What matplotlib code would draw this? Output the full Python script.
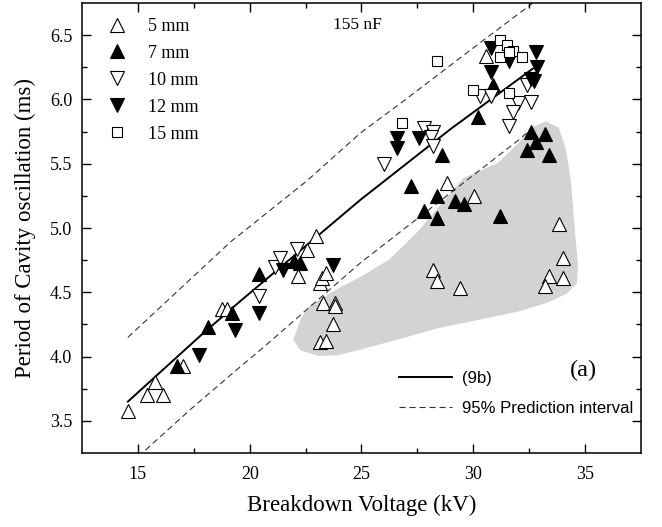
import numpy as np
import matplotlib
matplotlib.use('Agg')
import matplotlib.pyplot as plt
from matplotlib.patches import Polygon

plt.rcParams['font.family'] = ['Liberation Serif', 'DejaVu Serif']
plt.rcParams['mathtext.fontset'] = 'stix'

# ---- data ----
v_5mm = [14.55, 15.4, 15.76, 16.1, 17.0, 18.77, 18.99, 22.17, 22.58, 22.98,
         23.16, 23.25, 23.4, 23.3, 23.8, 23.8, 23.74, 23.16, 23.43, 28.81,
         30.02, 28.2, 28.4, 29.4, 33.83, 34.0, 33.4, 34.0, 33.2, 30.56]
t_5mm = [3.58, 3.70, 3.80, 3.70, 3.93, 4.37, 4.37, 4.63, 4.83, 4.94,
         4.57, 4.61, 4.65, 4.42, 4.42, 4.39, 4.25, 4.11, 4.12, 5.35,
         5.25, 4.67, 4.59, 4.53, 5.03, 4.77, 4.63, 4.61, 4.55, 6.34]

v_7mm = [16.76, 18.14, 19.2, 20.4, 22.0, 22.25, 27.2, 27.8, 28.4, 28.4,
         28.6, 29.2, 29.6, 31.19, 30.2, 30.9, 32.6, 33.2, 32.8, 32.4, 33.4]
t_7mm = [3.93, 4.23, 4.34, 4.64, 4.74, 4.73, 5.33, 5.13, 5.25, 5.08,
         5.57, 5.21, 5.19, 5.09, 5.86, 6.11, 5.75, 5.73, 5.67, 5.61, 5.57]

v_10mm = [20.4, 21.14, 21.37, 22.1, 25.99, 27.8, 28.2, 28.1, 28.2, 30.3,
          30.8, 32.0, 32.6, 31.8, 31.6, 32.4]
t_10mm = [4.47, 4.70, 4.77, 4.84, 5.50, 5.78, 5.75, 5.71, 5.64, 6.03,
          6.03, 5.97, 5.98, 5.90, 5.79, 6.11]

v_12mm = [17.75, 19.35, 20.4, 21.5, 23.74, 26.6, 26.6, 27.56, 30.8, 31.6,
          32.8, 30.8, 32.85, 32.6, 32.7]
t_12mm = [4.01, 4.21, 4.34, 4.67, 4.71, 5.70, 5.62, 5.70, 6.40, 6.30,
          6.37, 6.21, 6.25, 6.16, 6.14]

v_15mm = [28.4, 26.8, 29.98, 31.2, 31.2, 31.5, 31.8, 31.6, 32.2, 31.6]
t_15mm = [6.30, 5.82, 6.07, 6.46, 6.33, 6.42, 6.38, 6.37, 6.33, 6.05]

# model (9b) and 95% prediction band
fit_v = [14.55, 17.78, 19.57, 24.96, 28.99, 32.67]
fit_t = [3.65, 4.16, 4.43, 5.22, 5.77, 6.24]
upper_v = [14.55, 19.13, 22.58, 24.96, 26.75, 30.34, 32.9]
upper_t = [4.15, 4.89, 5.37, 5.74, 5.97, 6.445, 6.78]
lower_v = [15.0, 17.42, 19.57, 20.47, 24.96, 32.0, 32.4]
lower_t = [3.22, 3.60, 3.92, 4.05, 4.73, 5.68, 5.74]

# shaded region
region_v = [21.95, 22.3, 22.7, 24.06, 24.96, 26.21, 27.51, 28.41, 29.57, 31.10,
            32.13, 32.58, 33.25, 33.83, 34.15, 34.37, 34.55, 34.69, 34.64, 34.19,
            33.34, 32.0, 30.65, 28.41, 26.88, 25.09, 23.92, 23.07, 22.26]
region_t = [4.13, 4.30, 4.40, 4.54, 4.62, 4.75, 4.97, 5.155, 5.39, 5.505,
            5.68, 5.78, 5.83, 5.78, 5.61, 5.37, 4.98, 4.71, 4.57, 4.49,
            4.42, 4.35, 4.30, 4.22, 4.145, 4.06, 4.01, 4.005, 4.05]

series = [
    ('5 mm', v_5mm, t_5mm, '^', 'white'),
    ('7 mm', v_7mm, t_7mm, '^', 'black'),
    ('10 mm', v_10mm, t_10mm, 'v', 'white'),
    ('12 mm', v_12mm, t_12mm, 'v', 'black'),
    ('15 mm', v_15mm, t_15mm, 's', 'white'),
]

fig = plt.figure(figsize=(6.62, 5.27), dpi=100)
ax = fig.add_axes([0.124, 0.1404, 0.844, 0.8539])

ax.add_patch(Polygon(np.column_stack([region_v, region_t]), closed=True,
                     facecolor='#d3d3d3', edgecolor='none', zorder=1))

dash = (0, (5.5, 3.5))
ax.plot(upper_v, upper_t, color='#333333', lw=0.8, linestyle=dash, zorder=2)
ax.plot(lower_v, lower_t, color='#333333', lw=0.8, linestyle=dash, zorder=2)
line_fit, = ax.plot(fit_v, fit_t, color='black', lw=1.4, zorder=2)

handles = []
for label, v, t, m, fc in series:
    ms = 7.5 if m == 's' else 9.5
    h, = ax.plot(v, t, linestyle='none', marker=m, markersize=ms,
                 markerfacecolor=fc, markeredgecolor='black',
                 markeredgewidth=0.8, label=label, zorder=3)
    handles.append(h)

ax.set_xlim(12.5, 37.5)
ax.set_ylim(3.25, 6.75)
ax.set_xticks([15, 20, 25, 30, 35])
ax.set_yticks([3.5, 4.0, 4.5, 5.0, 5.5, 6.0, 6.5])
ax.set_xticks(np.arange(17.5, 37.5, 5), minor=True)
ax.set_yticks(np.arange(3.75, 6.75, 0.5), minor=True)
ax.set_yticklabels(['3.5', '4.0', '4.5', '5.0', '5.5', '6.0', '6.5'])
ax.tick_params(which='both', direction='in', top=True, right=True,
               width=1.0, labelsize=13)
ax.tick_params(which='major', length=6.5)
ax.tick_params(which='minor', length=3.5)
ax.tick_params(axis='x', pad=9)
ax.tick_params(axis='y', pad=7)
for s in ax.spines.values():
    s.set_linewidth(1.1)

ax.set_xlabel('Breakdown Voltage (kV)', fontsize=16.5, labelpad=9)
ax.set_ylabel('Period of Cavity oscillation (ms)', fontsize=16.5, labelpad=10)

leg1 = ax.legend(handles=handles, loc='upper left', frameon=False,
                 bbox_to_anchor=(0.0304, 0.967), borderaxespad=0, borderpad=0,
                 handlelength=2.0, handletextpad=0.7, labelspacing=0.55,
                 numpoints=1, fontsize=13)
ax.add_artist(leg1)

band_handle = plt.Line2D([], [], color='#333333', lw=0.8, linestyle=dash)
leg2 = ax.legend([line_fit, band_handle], ['(9b)', '95% Prediction interval'],
                 loc='lower right', frameon=False,
                 bbox_to_anchor=(0.9857, 0.083), borderaxespad=0, borderpad=0,
                 handlelength=3.2, handletextpad=0.55, labelspacing=0.9,
                 prop={'family': 'Liberation Sans', 'size': 12})

ax.text(0.449, 0.951, '155 nF', transform=ax.transAxes, fontsize=12.5,
        ha='left', va='center')
ax.text(0.898, 0.184, '(a)', transform=ax.transAxes, fontsize=17.5,
        ha='center', va='center')

fig.savefig('out.png', dpi=100)
